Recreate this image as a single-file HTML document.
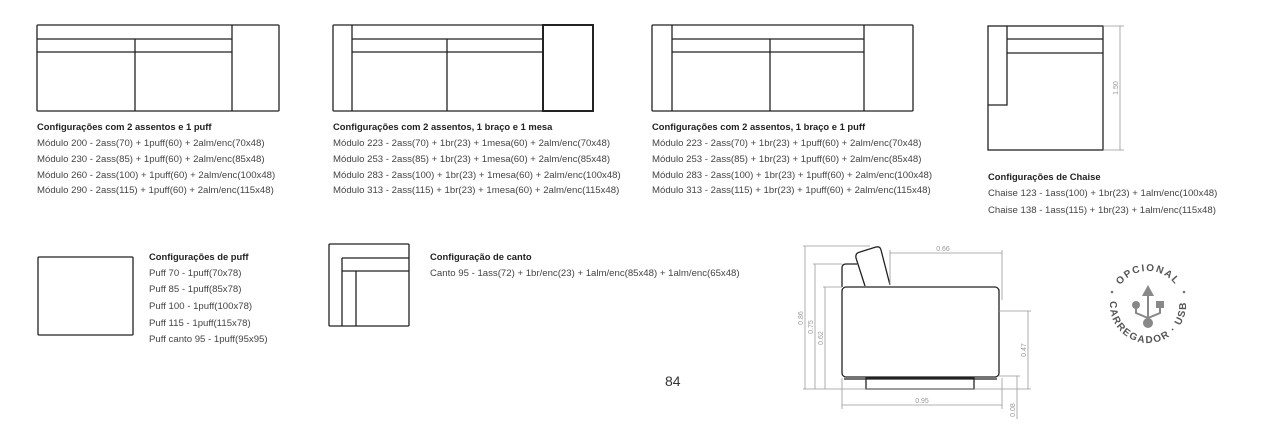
<!DOCTYPE html>
<html><head><meta charset="utf-8"><style>
html,body{margin:0;padding:0;background:#fff;}
svg{display:block;}
.h{font-family:"Liberation Sans",sans-serif;font-weight:bold;font-size:9.4px;fill:#222;}
.t{font-family:"Liberation Sans",sans-serif;font-size:9.6px;fill:#444;}
.d{font-family:"Liberation Sans",sans-serif;font-size:7px;fill:#999;}
</style></head><body>
<svg width="1287" height="430" viewBox="0 0 1287 430" xmlns="http://www.w3.org/2000/svg">
<g fill="none" stroke="#222" stroke-width="1.3">
<rect x="37" y="25" width="242" height="86" rx="1"/>
<line x1="37" y1="39" x2="232" y2="39"/><line x1="37" y1="52" x2="232" y2="52"/>
<line x1="135" y1="39" x2="135" y2="111"/><line x1="232" y1="25" x2="232" y2="111"/>
<rect x="333" y="25" width="260" height="86" rx="1"/>
<line x1="352" y1="25" x2="352" y2="111"/>
<line x1="352" y1="39" x2="543" y2="39"/><line x1="352" y1="52" x2="543" y2="52"/>
<line x1="447" y1="39" x2="447" y2="111"/>
<rect x="543" y="25" width="50" height="86" stroke-width="2"/>
<rect x="652" y="25" width="261" height="86" rx="1"/>
<line x1="672" y1="25" x2="672" y2="111"/><line x1="864" y1="25" x2="864" y2="111"/>
<line x1="672" y1="39" x2="864" y2="39"/><line x1="672" y1="52" x2="864" y2="52"/>
<line x1="770" y1="39" x2="770" y2="111"/>
<rect x="988" y="26" width="115" height="124"/>
<polyline points="988,105 1007,105 1007,26"/>
<line x1="1007" y1="39" x2="1103" y2="39"/><line x1="1007" y1="53" x2="1103" y2="53"/>
<rect x="38" y="257" width="95" height="78" rx="1"/>
<rect x="329" y="244" width="80" height="82" rx="1"/>
<line x1="342" y1="258" x2="409" y2="258"/><line x1="342" y1="271" x2="409" y2="271"/>
<line x1="342" y1="258" x2="342" y2="326"/><line x1="356" y1="271" x2="356" y2="326"/>
<rect x="842" y="287" width="157" height="90" rx="4"/>
<rect x="866" y="378" width="108" height="11"/>
<line x1="844" y1="379" x2="997" y2="379"/>
<path d="M865,286 L856,258 Q855,253 860,252 L876,247 Q880,246 881,250 L890,285"/>
<path d="M842,287 L842,268 Q842,264 846,264 L857,264"/>
</g>
<g stroke="#999" stroke-width="0.8" fill="none">
<line x1="1120" y1="26" x2="1120" y2="150"/><line x1="1103" y1="26" x2="1124" y2="26"/><line x1="1103" y1="150" x2="1124" y2="150"/>
<line x1="805" y1="246" x2="805" y2="389"/><line x1="815" y1="264" x2="815" y2="389"/><line x1="825" y1="287" x2="825" y2="389"/>
<line x1="803" y1="246" x2="870" y2="246"/><line x1="813" y1="264" x2="842" y2="264"/><line x1="823" y1="287" x2="842" y2="287"/>
<line x1="803" y1="389" x2="1031" y2="389"/>
<line x1="890" y1="253" x2="1002" y2="253"/><line x1="890" y1="250" x2="890" y2="285"/><line x1="1002" y1="250" x2="1002" y2="300"/>
<line x1="1028" y1="311" x2="1028" y2="389"/><line x1="999" y1="311" x2="1031" y2="311"/>
<line x1="1017" y1="376" x2="1017" y2="419"/><line x1="999" y1="376" x2="1020" y2="376"/>
<line x1="842" y1="405" x2="1002" y2="405"/><line x1="842" y1="378" x2="842" y2="409"/><line x1="1002" y1="378" x2="1002" y2="409"/>
</g>
<g class="d">
<text x="943" y="251" text-anchor="middle">0.66</text>
<text x="922" y="403" text-anchor="middle">0.95</text>
<text transform="translate(803,318) rotate(-90)" text-anchor="middle">0.86</text>
<text transform="translate(813,327) rotate(-90)" text-anchor="middle">0.75</text>
<text transform="translate(823,338) rotate(-90)" text-anchor="middle">0.62</text>
<text transform="translate(1026,350) rotate(-90)" text-anchor="middle">0.47</text>
<text transform="translate(1015,410) rotate(-90)" text-anchor="middle">0.08</text>
<text transform="translate(1118,88) rotate(-90)" text-anchor="middle">1.50</text>
</g>
<text class="h" x="37" y="130">Configurações com 2 assentos e 1 puff</text>
<text class="t" x="37" y="146">Módulo 200 - 2ass(70) + 1puff(60) + 2alm/enc(70x48)</text>
<text class="t" x="37" y="162">Módulo 230 - 2ass(85) + 1puff(60) + 2alm/enc(85x48)</text>
<text class="t" x="37" y="178">Módulo 260 - 2ass(100) + 1puff(60) + 2alm/enc(100x48)</text>
<text class="t" x="37" y="193">Módulo 290 - 2ass(115) + 1puff(60) + 2alm/enc(115x48)</text>
<text class="h" x="333" y="130">Configurações com 2 assentos, 1 braço e 1 mesa</text>
<text class="t" x="333" y="146">Módulo 223 - 2ass(70) + 1br(23) + 1mesa(60) + 2alm/enc(70x48)</text>
<text class="t" x="333" y="162">Módulo 253 - 2ass(85) + 1br(23) + 1mesa(60) + 2alm/enc(85x48)</text>
<text class="t" x="333" y="178">Módulo 283 - 2ass(100) + 1br(23) + 1mesa(60) + 2alm/enc(100x48)</text>
<text class="t" x="333" y="193">Módulo 313 - 2ass(115) + 1br(23) + 1mesa(60) + 2alm/enc(115x48)</text>
<text class="h" x="652" y="130">Configurações com 2 assentos, 1 braço e 1 puff</text>
<text class="t" x="652" y="146">Módulo 223 - 2ass(70) + 1br(23) + 1puff(60) + 2alm/enc(70x48)</text>
<text class="t" x="652" y="162">Módulo 253 - 2ass(85) + 1br(23) + 1puff(60) + 2alm/enc(85x48)</text>
<text class="t" x="652" y="178">Módulo 283 - 2ass(100) + 1br(23) + 1puff(60) + 2alm/enc(100x48)</text>
<text class="t" x="652" y="193">Módulo 313 - 2ass(115) + 1br(23) + 1puff(60) + 2alm/enc(115x48)</text>
<text class="h" x="988" y="180">Configurações de Chaise</text>
<text class="t" x="988" y="196">Chaise 123 - 1ass(100) + 1br(23) + 1alm/enc(100x48)</text>
<text class="t" x="988" y="213">Chaise 138 - 1ass(115) + 1br(23) + 1alm/enc(115x48)</text>
<text class="h" x="149" y="260">Configurações de puff</text>
<text class="t" x="149" y="276">Puff 70 - 1puff(70x78)</text>
<text class="t" x="149" y="292">Puff 85 - 1puff(85x78)</text>
<text class="t" x="149" y="309">Puff 100 - 1puff(100x78)</text>
<text class="t" x="149" y="326">Puff 115 - 1puff(115x78)</text>
<text class="t" x="149" y="342">Puff canto 95 - 1puff(95x95)</text>
<text class="h" x="430" y="260">Configuração de canto</text>
<text class="t" x="430" y="276">Canto 95 - 1ass(72) + 1br/enc(23) + 1alm/enc(85x48) + 1alm/enc(65x48)</text>
<text x="665" y="386" font-family="Liberation Sans,sans-serif" font-size="14" fill="#333">84</text>
<defs>
<path id="ct" d="M1114,305 A34,34 0 0,1 1182,305"/>
<path id="cb" d="M1110,305 A38,38 0 0,0 1186,305"/>
</defs>
<g font-family="Liberation Sans,sans-serif" font-weight="bold" fill="#555" font-size="10" letter-spacing="1.5">
<text><textPath href="#ct" startOffset="50%" text-anchor="middle">OPCIONAL</textPath></text>
<text><textPath href="#cb" startOffset="50%" text-anchor="middle">CARREGADOR · USB</textPath></text>
</g>
<circle cx="1112" cy="292" r="1.3" fill="#777"/><circle cx="1184" cy="292" r="1.3" fill="#777"/>
<g fill="#888" stroke="#888" stroke-width="2">
<polygon points="1148,285 1142,296 1154,296" stroke="none"/>
<line x1="1148" y1="295" x2="1148" y2="322"/>
<path d="M1136,308 L1136,313 L1148,318 L1160,313 L1160,308" fill="none"/>
<circle cx="1136" cy="305" r="4" stroke="none"/>
<rect x="1156" y="301" width="8" height="7" stroke="none"/>
<circle cx="1148" cy="323" r="5" stroke="none"/>
</g>
</svg>
</body></html>
